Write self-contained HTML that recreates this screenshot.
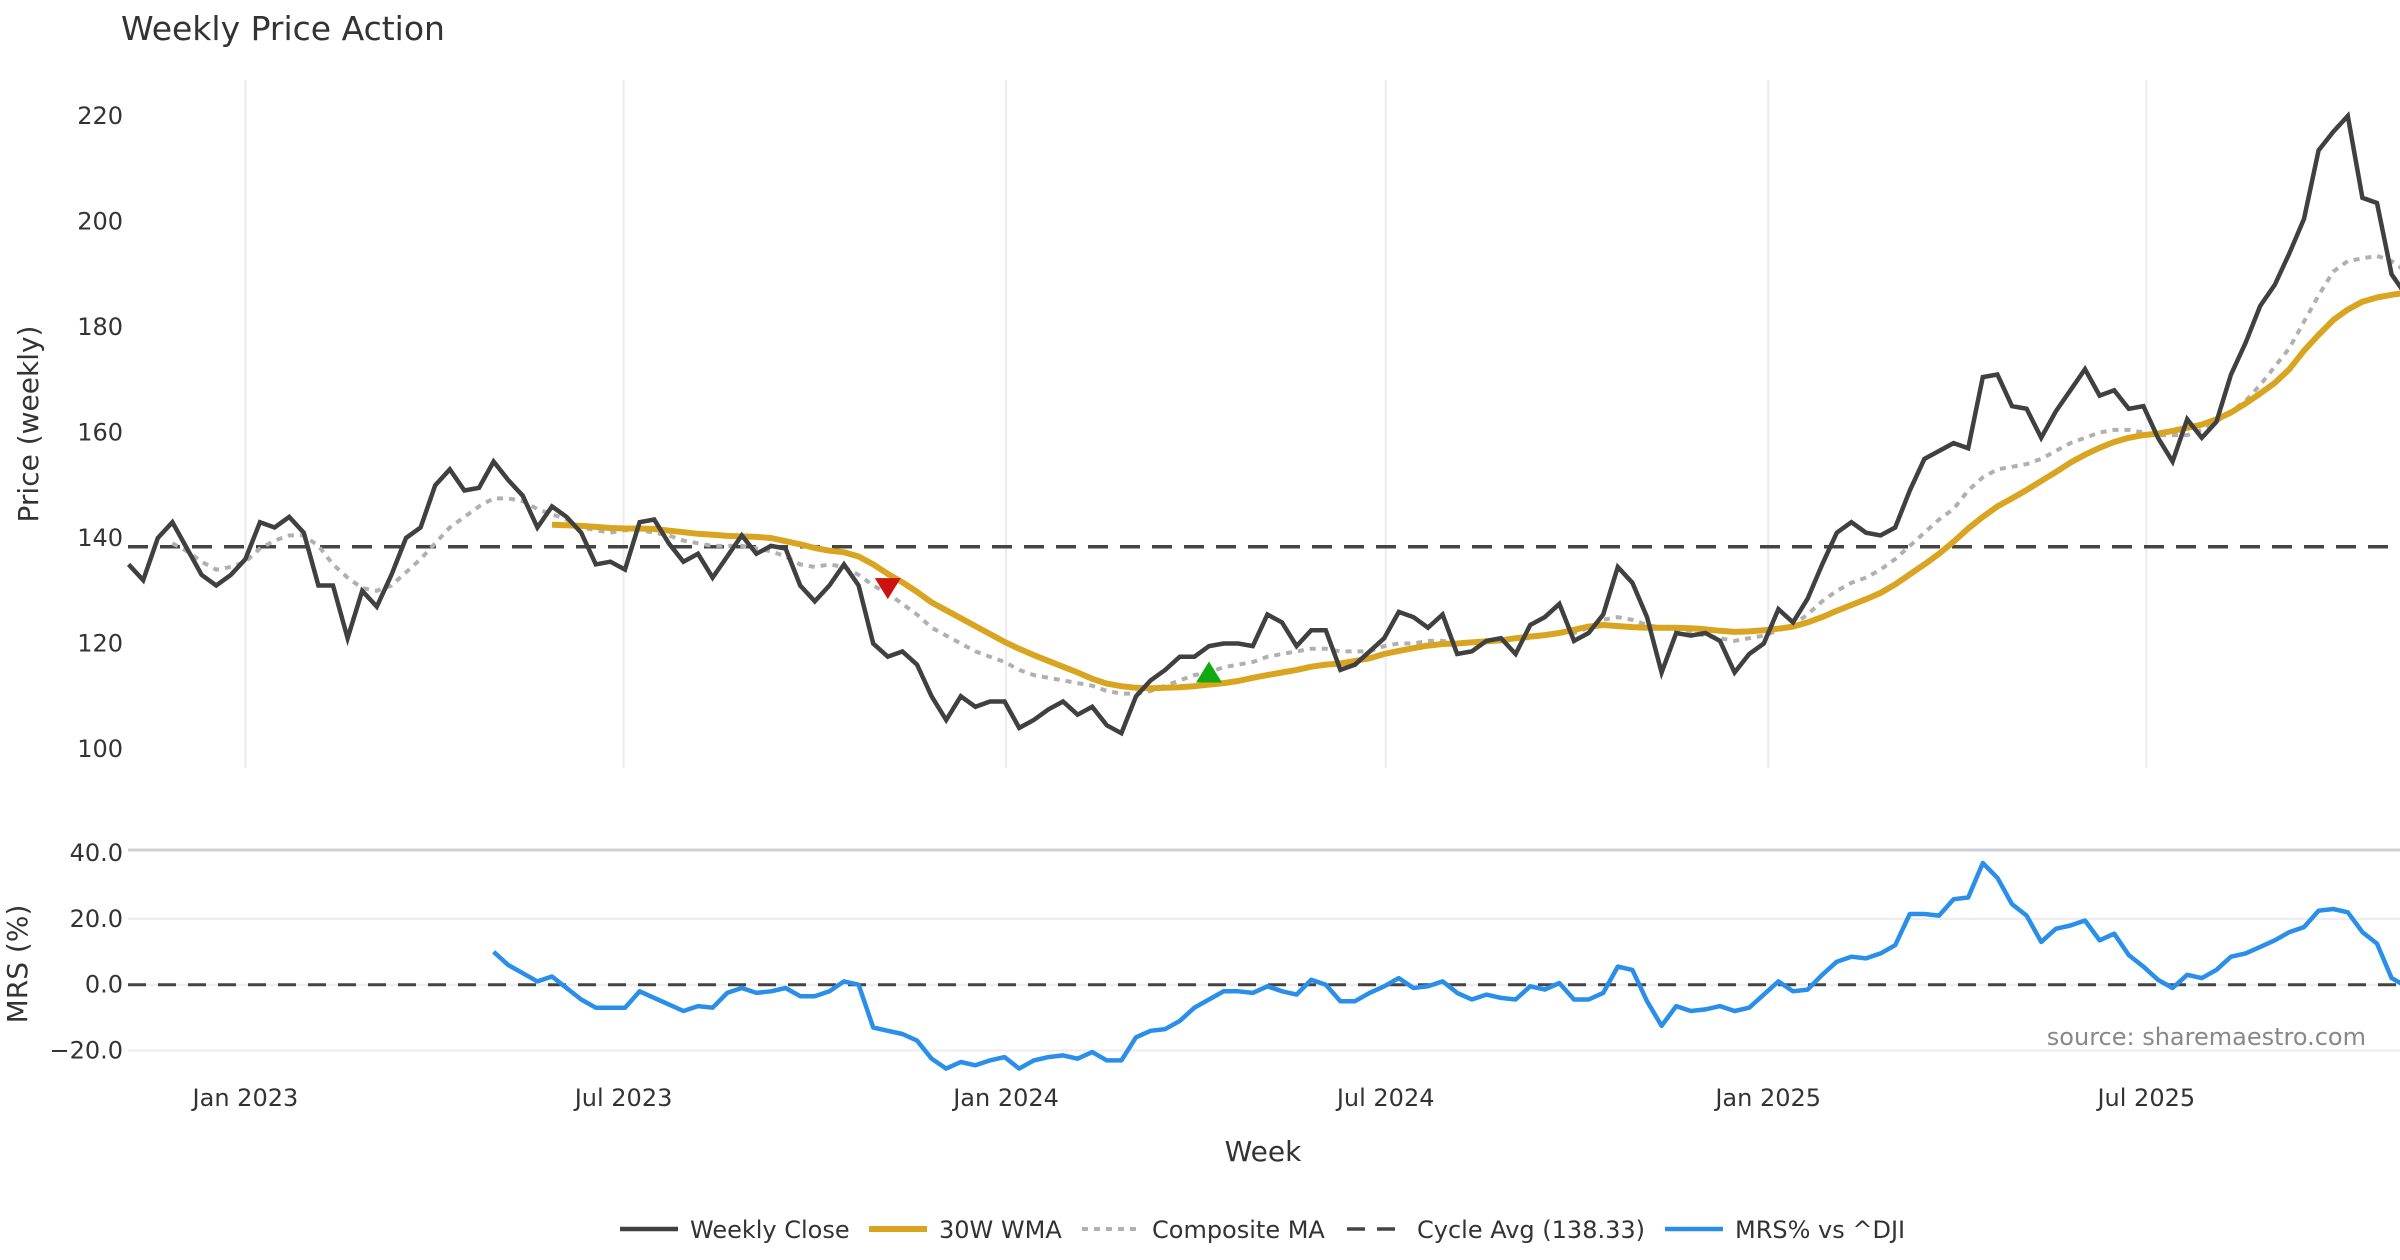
<!DOCTYPE html>
<html><head><meta charset="utf-8">
<style>
html,body{margin:0;padding:0;background:#fff;}
svg{display:block;font-family:"DejaVu Sans","Liberation Sans",sans-serif;}
</style></head>
<body>
<svg id="chart" width="2400" height="1260" viewBox="0 0 2400 1260" xmlns="http://www.w3.org/2000/svg">
<text x="121" y="40" font-size="33" fill="#333">Weekly Price Action</text>
<g id="grid"></g>
<g id="series"></g>
<g id="axes"></g>
</svg>
<script>
const closeVals=[135,132,140,143,138,133,131,133,136,143,142,144,141,131,131,121,130,127,133,140,142,150,153,149,149.5,154.5,151,148,142,146,144,141,135,135.5,134,143,143.5,139,135.5,137,132.5,136.5,140.5,137,138.5,138,131,128,131,135,131,120,117.5,118.5,116,110,105.5,110,108,109,109,104,105.5,107.5,109,106.5,108,104.5,103,110,113,115,117.5,117.5,119.5,120,120,119.5,125.5,124,119.5,122.5,122.5,115,116,118.5,121,126,125,123,125.5,118,118.5,120.5,121,118,123.5,125,127.5,120.5,122,125.5,134.5,131.5,125,114.5,122,121.5,122,120.5,114.5,118,120,126.5,124,128.5,135,141,143,141,140.5,142,149,155,156.5,158,157,170.5,171,165,164.5,159,164,168,172,167,168,164.5,165,159,154.5,162.5,159,162,171,177,184,188,194,200.5,213.5,217,220,204.5,203.5,190,186];
const wmaStart=29;
const wmaVals=[142.5,142.4,142.3,142.1,141.9,141.8,141.8,141.7,141.4,141.1,140.8,140.6,140.4,140.3,140.2,140,139.4,138.8,138.1,137.6,137.3,136.5,135,133.2,131.6,129.8,127.8,126.3,124.8,123.3,121.8,120.3,119,117.8,116.7,115.6,114.5,113.3,112.4,111.9,111.6,111.5,111.6,111.7,111.9,112.2,112.5,112.9,113.5,114,114.5,115,115.6,116,116.2,116.7,117.2,118,118.6,119.1,119.6,119.9,120,120.2,120.4,120.6,121,121.3,121.6,122,122.6,123.2,123.5,123.3,123.1,123,123,123,122.9,122.7,122.4,122.2,122.3,122.5,122.8,123.2,124,125,126.2,127.3,128.4,129.6,131.2,133.1,135,137,139.3,141.8,144,146,147.5,149.1,150.8,152.5,154.3,155.8,157.1,158.2,159,159.5,159.8,160.3,160.9,161.5,162.5,163.8,165.5,167.4,169.4,172,175.5,178.5,181.3,183.3,184.8,185.6,186.1,186.5];
const compStart=3;
const compVals=[139,137.5,135.5,134,134.5,135.5,138,139.5,140.5,140.5,138.5,135,132.5,130.5,130,131,133.5,136,139,142,144,146,147.5,147.5,147,145.5,144.5,143.5,142,141.5,141,141.5,141.5,141,140.5,139.5,139,138.5,138.5,138.5,138,137.5,136.5,135,134.5,135,134.5,133,131,129.5,127.5,125.5,123,121.5,120,118.5,117.5,116.5,115,114,113.5,113,112.5,112,111,110.5,110.5,111,112,113,114,114.5,115.5,116,116.5,117.5,118,118.5,119,119,118.5,118.5,118.5,119.5,120,120,120.5,120.5,120,120,120.5,120.5,121,121,121.5,122,122,123,124.5,125,124.5,123.5,123,122.5,122,121.5,121,120.5,121,121.5,122.5,123.5,125.5,128,130,131.5,132.5,134,136,138.5,141,143.5,145.5,149,151.5,153,153.5,154,155,156.5,158,159,160,160.5,160.5,160,159.5,159.5,159.5,160.5,162,164,166,169,172.5,176,181,186,190.5,192.5,193,193.5,192.5,190.5];
const mrsStart=25;
const mrsVals=[10,6,3.5,1,2.5,-1,-4.5,-7,-7,-7,-2,-4,-6,-8,-6.5,-7,-2.5,-1,-2.5,-2,-1,-3.5,-3.5,-2,1,0,-13,-14,-15,-17,-22.5,-25.5,-23.5,-24.5,-23,-22,-25.5,-23,-22,-21.5,-22.5,-20.5,-23,-23,-16,-14,-13.5,-11,-7,-4.5,-2,-2,-2.5,-0.5,-2,-3,1.5,0,-5,-5,-2.5,-0.5,2,-1,-0.5,1,-2.5,-4.5,-3,-4,-4.5,-0.5,-1.5,0.5,-4.5,-4.5,-2.5,5.5,4.5,-5,-12.5,-6.5,-8,-7.5,-6.5,-8,-7,-3,1,-2,-1.5,3,7,8.5,8,9.5,12,21.5,21.5,21,26,26.5,37,32.5,24.5,21,13,17,18,19.5,13.5,15.5,9,5.5,1.5,-1,3,2,4.5,8.5,9.5,11.5,13.5,16,17.5,22.5,23,22,16,12.5,2,-0.5];
const cycleAvg=138.33;
const priceTicks=[100,120,140,160,180,200,220];
const mrsTicks=[-20,0,20,40];
const dateTickIdx=[8,33.9,60.1,86.1,112.3,138.2];
const dateTickLabels=["Jan 2023","Jul 2023","Jan 2024","Jul 2024","Jan 2025","Jul 2025"];
const sellIdx=[52], sellVal=[130.5];
const buyIdx=[74], buyVal=[114.5];

const NS="http://www.w3.org/2000/svg";
const X0=128.6, DX=14.6;
const xS=i=>X0+i*DX;
const yP=v=>116+(220-v)*105.5/20;
const yM=v=>984.7-v*65.8/20;
function mk(tag,attrs,parent,name,inter){const e=document.createElementNS(NS,tag);for(const k in attrs)e.setAttribute(k,attrs[k]);parent.appendChild(e);


return e;}
const grid=document.getElementById('grid'),ser=document.getElementById('series'),ax=document.getElementById('axes');
dateTickIdx.forEach((d,k)=>{mk('line',{x1:xS(d),x2:xS(d),y1:80,y2:768,stroke:'#ebebf0','stroke-width':2},grid,'x-gridline');});
mk('line',{x1:128,x2:2400,y1:850,y2:850,stroke:'#d0d0d4','stroke-width':3},grid,'mrs-panel-top-border');
mrsTicks.forEach(t=>{if(t!==40)mk('line',{x1:128,x2:2400,y1:yM(t),y2:yM(t),stroke:'#ebebf0','stroke-width':2},grid,'mrs-gridline');});
function path(vals,start,ys){return vals.map((v,j)=>(j?'L':'M')+xS(start+j).toFixed(1)+' '+ys(v).toFixed(1)).join(' ');}
mk('line',{x1:128,x2:2400,y1:yP(cycleAvg),y2:yP(cycleAvg),stroke:'#444','stroke-width':3.5,'stroke-dasharray':'20 12'},ser,'cycle-avg-line');
mk('path',{d:path(compVals,compStart,yP),fill:'none',stroke:'#b0b0b0','stroke-width':4,'stroke-dasharray':'6 6'},ser,'composite-ma-line');
mk('path',{d:path(wmaVals,wmaStart,yP),fill:'none',stroke:'#d9a521','stroke-width':6,'stroke-linejoin':'round'},ser,'wma-30w-line');
mk('path',{d:path(closeVals,0,yP),fill:'none',stroke:'#404040','stroke-width':4.5,'stroke-linejoin':'miter'},ser,'weekly-close-line');
sellIdx.forEach((d,k)=>{const x=xS(d),y=yP(sellVal[k]);mk('path',{d:`M${x-13} ${y-10} L${x+13} ${y-10} L${x} ${y+11} Z`,fill:'#cc1111'},ser,'sell-signal-marker');});
buyIdx.forEach((d,k)=>{const x=xS(d),y=yP(buyVal[k]);mk('path',{d:`M${x-13} ${y+10} L${x+13} ${y+10} L${x} ${y-11} Z`,fill:'#11a811'},ser,'buy-signal-marker');});
mk('line',{x1:128,x2:2400,y1:yM(0),y2:yM(0),stroke:'#444','stroke-width':3,'stroke-dasharray':'18 12'},ser,'mrs-zero-line');
mk('path',{d:path(mrsVals,mrsStart,yM),fill:'none',stroke:'#2a8fe8','stroke-width':4.5,'stroke-linejoin':'round'},ser,'mrs-line');
priceTicks.forEach(t=>{const e=mk('text',{x:123,y:yP(t)+8,'font-size':24,fill:'#333','text-anchor':'end'},ax,'price-tick-label');e.textContent=t;});
mrsTicks.forEach(t=>{const e=mk('text',{x:123,y:yM(t)+8,'font-size':24,fill:'#333','text-anchor':'end'},ax,'mrs-tick-label');e.textContent=(t<0?'\u2212':'')+Math.abs(t).toFixed(1);});
dateTickIdx.forEach((d,k)=>{const e=mk('text',{x:xS(d),y:1106,'font-size':24,fill:'#333','text-anchor':'middle'},ax,'x-tick-label');e.textContent=dateTickLabels[k];});
let e=mk('text',{x:0,y:0,'font-size':28,fill:'#333','text-anchor':'middle',transform:'translate(38,424) rotate(-90)'},ax,'y-axis-title-price');e.textContent='Price (weekly)';
e=mk('text',{x:0,y:0,'font-size':28,fill:'#333','text-anchor':'middle',transform:'translate(27,964) rotate(-90)'},ax,'y-axis-title-mrs');e.textContent='MRS (%)';
e=mk('text',{x:1263,y:1161,'font-size':28,fill:'#333','text-anchor':'middle'},ax,'x-axis-title');e.textContent='Week';
e=mk('text',{x:2366,y:1045,'font-size':24,fill:'#888','text-anchor':'end'},ax,'source-note');e.textContent='source: sharemaestro.com';
const leg=[{x:620,t:'Weekly Close',s:'#404040',w:4.5,d:''},{x:869,t:'30W WMA',s:'#d9a521',w:6,d:''},{x:1082,t:'Composite MA',s:'#b0b0b0',w:4,d:'6 6'},{x:1347,t:'Cycle Avg (138.33)',s:'#444',w:3.5,d:'18 12'},{x:1665,t:'MRS% vs ^DJI',s:'#2a8fe8',w:4.5,d:''}];
const lg=mk('g',{},ax,'legend');
leg.forEach(l=>{const g=mk('g',{},lg,'legend-entry');
mk('line',{x1:l.x,x2:l.x+58,y1:1229,y2:1229,stroke:l.s,'stroke-width':l.w,'stroke-dasharray':l.d||'none'},g,'legend-swatch');
const t=mk('text',{x:l.x+70,y:1238,'font-size':24,fill:'#333'},g,'legend-label');t.textContent=l.t;});
</script>
</body></html>
